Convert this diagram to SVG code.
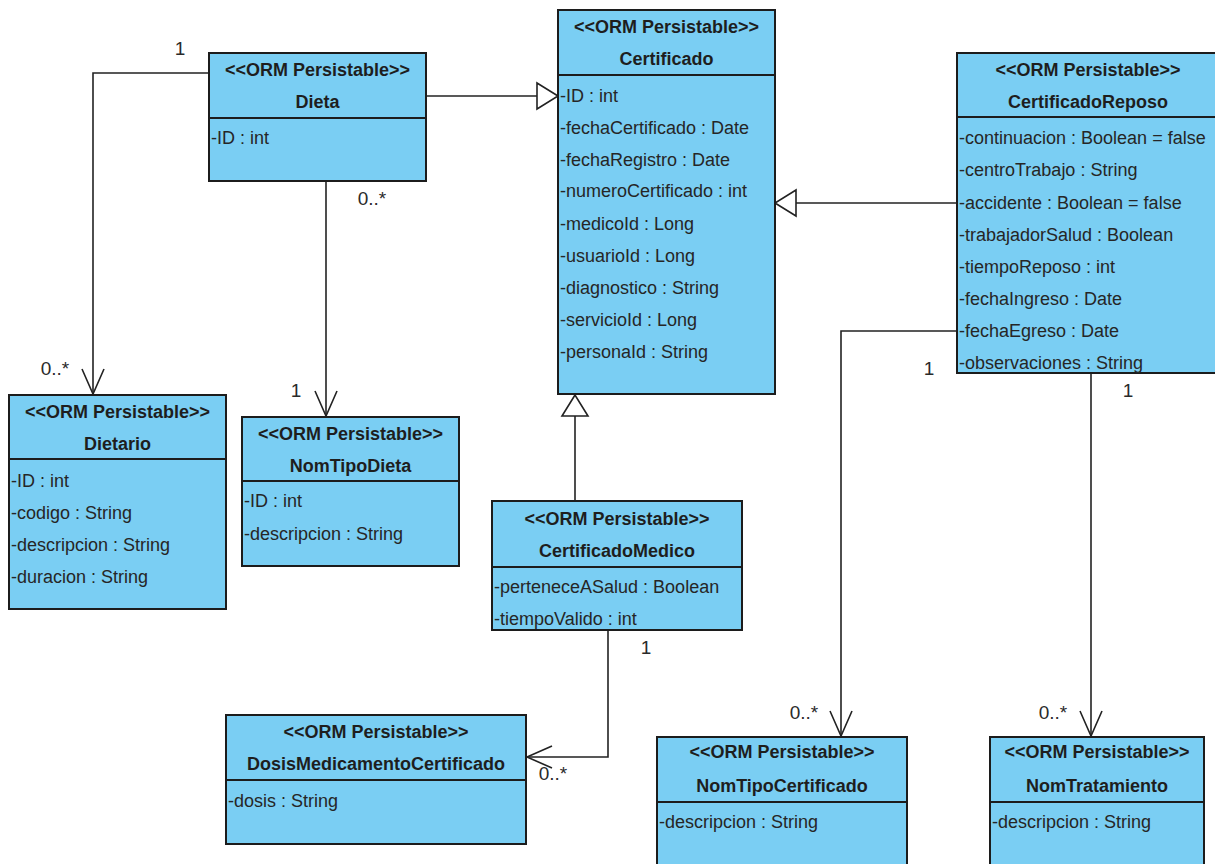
<svg xmlns="http://www.w3.org/2000/svg" width="1215" height="864" viewBox="0 0 1215 864">
  <style>
    .box { fill: #7acef3; stroke: #1c1c1c; stroke-width: 2; }
    .sep { stroke: #1c1c1c; stroke-width: 2; }
    .st { font-family: "Liberation Sans", Arial, sans-serif; font-size: 18px; font-weight: bold; fill: #1e1e1e; text-anchor: middle; }
    .nm { font-family: "Liberation Sans", Arial, sans-serif; font-size: 18px; font-weight: bold; fill: #1e1e1e; text-anchor: middle; }
    .at { font-family: "Liberation Sans", Arial, sans-serif; font-size: 18px; fill: #262626; }
    .conn { fill: none; stroke: #222; stroke-width: 1.6; }
    .mult { font-family: "Liberation Sans", Arial, sans-serif; font-size: 19px; fill: #2a2a2a; text-anchor: middle; }
  </style>
  <defs>
    <!-- open arrowhead for navigable associations -->
    <marker id="open" markerUnits="userSpaceOnUse" markerWidth="40" markerHeight="40" refX="0" refY="0" orient="auto" overflow="visible">
      <path d="M -25 -11 L 0 0 L -25 11" fill="none" stroke="#222" stroke-width="1.6"/>
    </marker>
    <!-- hollow triangle for generalization -->
    <marker id="gen" markerUnits="userSpaceOnUse" markerWidth="40" markerHeight="40" refX="0" refY="0" orient="auto" overflow="visible">
      <path d="M 0 0 L -21 -13 L -21 13 Z" fill="#fff" stroke="#222" stroke-width="1.6"/>
    </marker>
  </defs>
  <rect width="1215" height="864" fill="#fff"/>

  <g id="connectors">
    <path class="conn" d="M209,73 H93 V394" marker-end="url(#open)"/>
    <path class="conn" d="M326,181 V416" marker-end="url(#open)"/>
    <path class="conn" d="M426,96 H558" marker-end="url(#gen)"/>
    <path class="conn" d="M957,203 H775" marker-end="url(#gen)"/>
    <path class="conn" d="M575,501 V395" marker-end="url(#gen)"/>
    <path class="conn" d="M608,630 V757 H527" marker-end="url(#open)"/>
    <path class="conn" d="M957,331 H841 V736" marker-end="url(#open)"/>
    <path class="conn" d="M1091,373 V736" marker-end="url(#open)"/>
    <g id="multiplicities">
      <text class="mult" x="180" y="55">1</text>
      <text class="mult" x="55" y="375">0..*</text>
      <text class="mult" x="372" y="205">0..*</text>
      <text class="mult" x="296" y="397">1</text>
      <text class="mult" x="929" y="375">1</text>
      <text class="mult" x="1128" y="397">1</text>
      <text class="mult" x="646" y="654">1</text>
      <text class="mult" x="553" y="780">0..*</text>
      <text class="mult" x="804" y="719">0..*</text>
      <text class="mult" x="1053" y="719">0..*</text>
    </g>
  </g>

  <g id="Dieta">
    <rect class="box" x="209" y="53" width="217" height="128"/>
    <line class="sep" x1="209" y1="118" x2="426" y2="118"/>
    <text class="st" x="317.5" y="76">&lt;&lt;ORM Persistable&gt;&gt;</text>
    <text class="nm" x="317.5" y="108">Dieta</text>
    <text class="at" x="211" y="144">-ID : int</text>
  </g>

  <g id="Certificado">
    <rect class="box" x="558" y="10" width="217" height="384"/>
    <line class="sep" x1="558" y1="75" x2="775" y2="75"/>
    <text class="st" x="666.5" y="33">&lt;&lt;ORM Persistable&gt;&gt;</text>
    <text class="nm" x="666.5" y="65">Certificado</text>
    <text class="at" x="560" y="102">-ID : int</text>
    <text class="at" x="560" y="134">-fechaCertificado : Date</text>
    <text class="at" x="560" y="166">-fechaRegistro : Date</text>
    <text class="at" x="560" y="197">-numeroCertificado : int</text>
    <text class="at" x="560" y="230">-medicoId : Long</text>
    <text class="at" x="560" y="262">-usuarioId : Long</text>
    <text class="at" x="560" y="294">-diagnostico : String</text>
    <text class="at" x="560" y="326">-servicioId : Long</text>
    <text class="at" x="560" y="358">-personaId : String</text>
  </g>

  <g id="CertificadoReposo">
    <rect class="box" x="957" y="53" width="262" height="320"/>
    <line class="sep" x1="957" y1="117" x2="1219" y2="117"/>
    <text class="st" x="1088" y="76">&lt;&lt;ORM Persistable&gt;&gt;</text>
    <text class="nm" x="1088" y="108">CertificadoReposo</text>
    <text class="at" x="959" y="144">-continuacion : Boolean = false</text>
    <text class="at" x="959" y="176">-centroTrabajo : String</text>
    <text class="at" x="959" y="209">-accidente : Boolean = false</text>
    <text class="at" x="959" y="241">-trabajadorSalud : Boolean</text>
    <text class="at" x="959" y="273">-tiempoReposo : int</text>
    <text class="at" x="959" y="305">-fechaIngreso : Date</text>
    <text class="at" x="959" y="337">-fechaEgreso : Date</text>
    <text class="at" x="959" y="369">-observaciones : String</text>
  </g>

  <g id="Dietario">
    <rect class="box" x="9" y="395" width="217" height="214"/>
    <line class="sep" x1="9" y1="459" x2="226" y2="459"/>
    <text class="st" x="117.5" y="418">&lt;&lt;ORM Persistable&gt;&gt;</text>
    <text class="nm" x="117.5" y="450">Dietario</text>
    <text class="at" x="11" y="487">-ID : int</text>
    <text class="at" x="11" y="519">-codigo : String</text>
    <text class="at" x="11" y="551">-descripcion : String</text>
    <text class="at" x="11" y="583">-duracion : String</text>
  </g>

  <g id="NomTipoDieta">
    <rect class="box" x="242" y="417" width="217" height="149"/>
    <line class="sep" x1="242" y1="481" x2="459" y2="481"/>
    <text class="st" x="350.5" y="440">&lt;&lt;ORM Persistable&gt;&gt;</text>
    <text class="nm" x="350.5" y="472">NomTipoDieta</text>
    <text class="at" x="244" y="507">-ID : int</text>
    <text class="at" x="244" y="540">-descripcion : String</text>
  </g>

  <g id="CertificadoMedico">
    <rect class="box" x="492" y="501" width="250" height="129"/>
    <line class="sep" x1="492" y1="567" x2="742" y2="567"/>
    <text class="st" x="617" y="525">&lt;&lt;ORM Persistable&gt;&gt;</text>
    <text class="nm" x="617" y="557">CertificadoMedico</text>
    <text class="at" x="494" y="593">-perteneceASalud : Boolean</text>
    <text class="at" x="494" y="625">-tiempoValido : int</text>
  </g>

  <g id="DosisMedicamentoCertificado">
    <rect class="box" x="226" y="715" width="300" height="129"/>
    <line class="sep" x1="226" y1="780" x2="526" y2="780"/>
    <text class="st" x="376" y="738">&lt;&lt;ORM Persistable&gt;&gt;</text>
    <text class="nm" x="376" y="770">DosisMedicamentoCertificado</text>
    <text class="at" x="228" y="807">-dosis : String</text>
  </g>

  <g id="NomTipoCertificado">
    <rect class="box" x="657" y="737" width="250" height="140"/>
    <line class="sep" x1="657" y1="802" x2="907" y2="802"/>
    <text class="st" x="782" y="758">&lt;&lt;ORM Persistable&gt;&gt;</text>
    <text class="nm" x="782" y="792">NomTipoCertificado</text>
    <text class="at" x="659" y="828">-descripcion : String</text>
  </g>

  <g id="NomTratamiento">
    <rect class="box" x="990" y="737" width="214" height="140"/>
    <line class="sep" x1="990" y1="802" x2="1204" y2="802"/>
    <text class="st" x="1097" y="758">&lt;&lt;ORM Persistable&gt;&gt;</text>
    <text class="nm" x="1097" y="792">NomTratamiento</text>
    <text class="at" x="992" y="828">-descripcion : String</text>
  </g>
</svg>
